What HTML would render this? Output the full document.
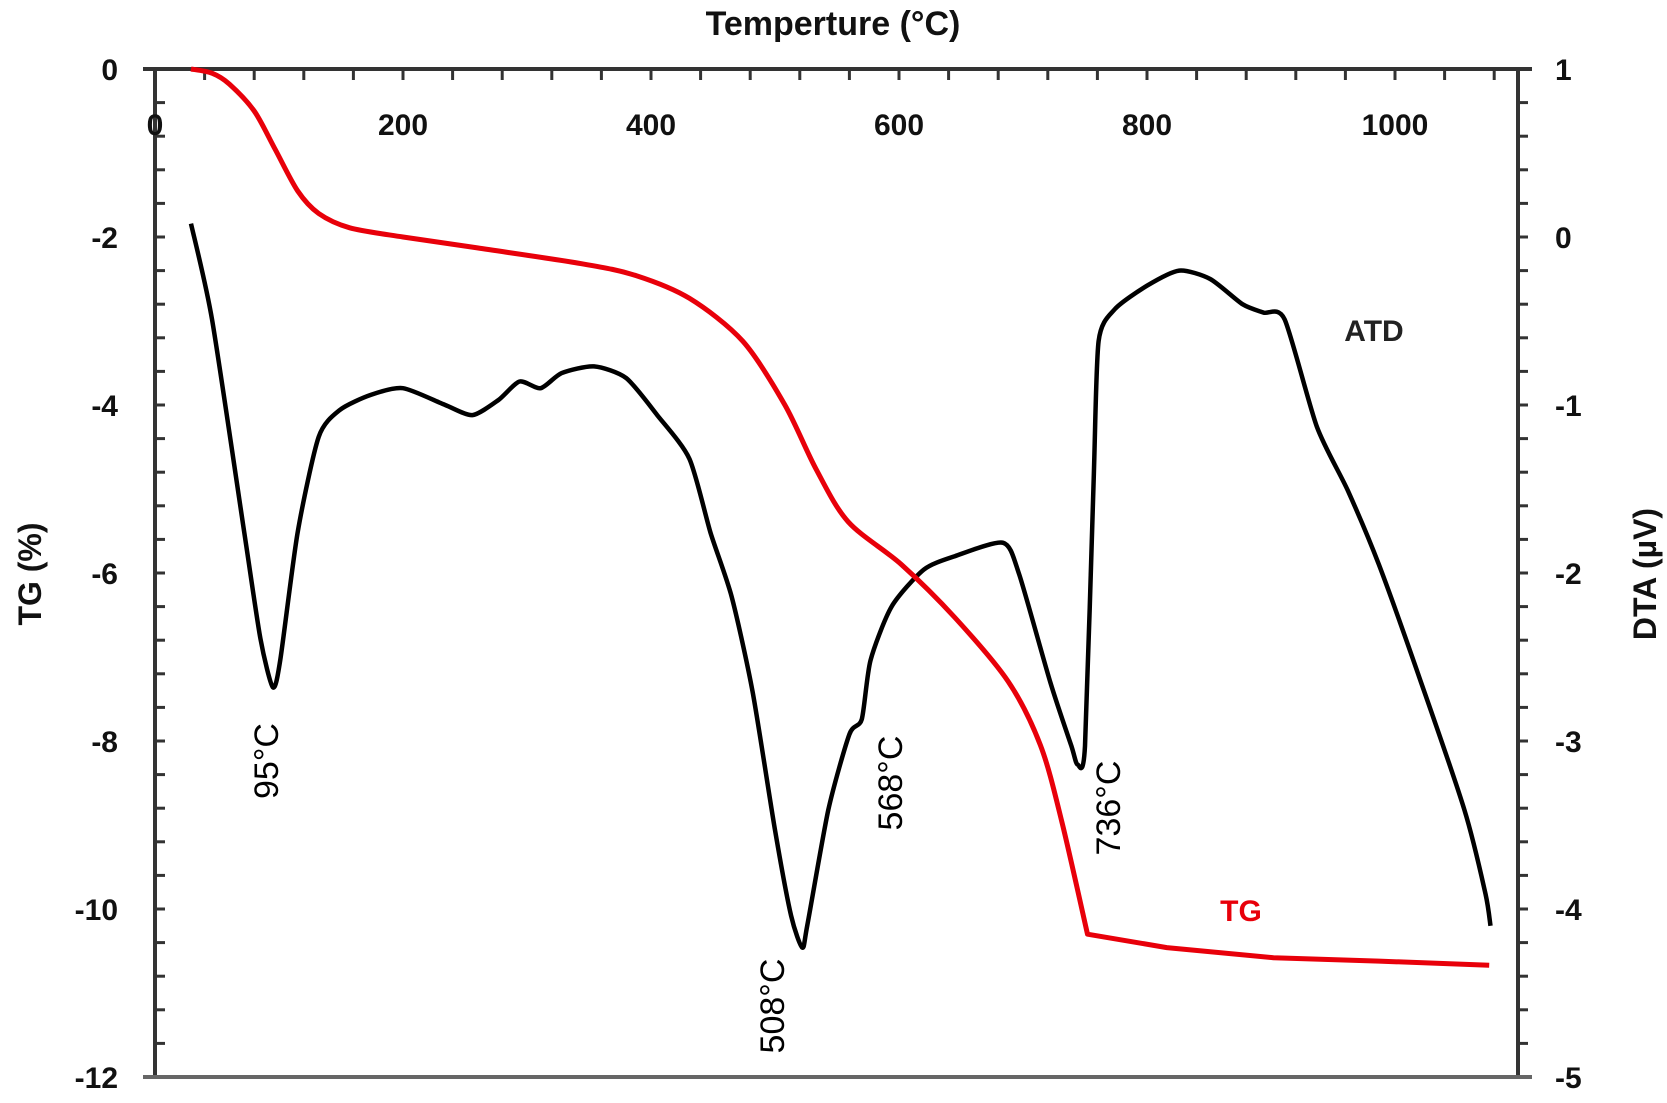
<!DOCTYPE html>
<html><head><meta charset="utf-8"><style>
body{margin:0;background:#fff}
svg{display:block}
text{font-family:"Liberation Sans",sans-serif}
</style></head><body>
<svg id="chart" width="1667" height="1103" viewBox="0 0 1667 1103">
<g id="axes"></g>
<g id="series"></g>
<g id="labels"></g>
</svg>
<script>
const xTicks=[0,200,400,600,800,1000];
const tgTicks=[0,-2,-4,-6,-8,-10,-12];
const dtaTicks=[1,0,-1,-2,-3,-4,-5];
const tgT=[29,46,60,80,97,115,132,157,200,260,345,388,431,474,508,533,559,602,645,688,714,731,752,816,902,987,1076];
const tgV=[0,-0.05,-0.18,-0.5,-0.96,-1.45,-1.72,-1.89,-2.0,-2.13,-2.32,-2.46,-2.73,-3.24,-4.0,-4.76,-5.39,-5.9,-6.53,-7.29,-8.05,-8.94,-10.3,-10.46,-10.58,-10.62,-10.67];
const tgKnee=752;
const dtaT=[29,46,72,85,95,101,115,132,149,174,200,234,256,277,294,311,328,354,380,405,431,448,465,482,500,513,522,526,543,560,570,577,594,620,645,684,697,722,739,744,750,757,761,774,800,826,851,877,894,911,937,962,987,1021,1056,1073,1077];
const dtaV=[0.08,-0.49,-1.76,-2.39,-2.68,-2.52,-1.76,-1.19,-1.03,-0.94,-0.9,-1.0,-1.06,-0.97,-0.86,-0.9,-0.81,-0.77,-0.84,-1.06,-1.32,-1.76,-2.14,-2.71,-3.53,-4.04,-4.23,-4.1,-3.41,-2.96,-2.87,-2.52,-2.2,-1.98,-1.9,-1.82,-2.01,-2.65,-3.03,-3.14,-3.03,-1.44,-0.62,-0.43,-0.29,-0.2,-0.25,-0.4,-0.45,-0.49,-1.13,-1.51,-1.95,-2.65,-3.41,-3.91,-4.1];
const peakLabels=["95°C","508°C","568°C","736°C"];

const NS="http://www.w3.org/2000/svg";
const L=155,R=1518,T=69,B=1077;
const xs=t=>L+t*1.24;
const yTG=v=>T+(-v)*(B-T)/12;
const yDTA=v=>T+(1-v)*(B-T)/6;
function mk(p,tag,at,txt){const e=document.createElementNS(NS,tag);for(const k in at)e.setAttribute(k,at[k]);if(txt!=null)e.textContent=txt;p.appendChild(e);return e;}
function smooth(P,k){let d='M'+P[0][0].toFixed(1)+','+P[0][1].toFixed(1);
for(let i=0;i<P.length-1;i++){const p0=P[Math.max(0,i-1)],p1=P[i],p2=P[i+1],p3=P[Math.min(P.length-1,i+2)];
const c1=[p1[0]+(p2[0]-p0[0])*k,p1[1]+(p2[1]-p0[1])*k],c2=[p2[0]-(p3[0]-p1[0])*k,p2[1]-(p3[1]-p1[1])*k];
d+='C'+c1.map(v=>v.toFixed(1)).join(',')+' '+c2.map(v=>v.toFixed(1)).join(',')+' '+p2[0].toFixed(1)+','+p2[1].toFixed(1);}
return d;}
const ax=document.getElementById('axes'),se=document.getElementById('series'),lb=document.getElementById('labels');
let e;
e=mk(ax,'line',{x1:143,y1:T,x2:1532,y2:T,stroke:'#333','stroke-width':4});

e=mk(ax,'line',{x1:L,y1:T,x2:L,y2:B,stroke:'#333','stroke-width':4});

e=mk(ax,'line',{x1:R,y1:T,x2:R,y2:B,stroke:'#333','stroke-width':4});

e=mk(ax,'line',{x1:143,y1:B,x2:1532,y2:B,stroke:'#666','stroke-width':4});

for(let t=40;t<1100;t+=40){e=mk(ax,'line',{x1:xs(t),y1:T,x2:xs(t),y2:T+11,stroke:'#333','stroke-width':3});
}
for(let v=0;v>=-12;v-=0.4){const y=yTG(v);
e=mk(ax,'line',{x1:L,y1:y,x2:L+10,y2:y,stroke:'#333','stroke-width':3});

e=mk(ax,'line',{x1:R,y1:y,x2:R+10,y2:y,stroke:'#333','stroke-width':3});
}
xTicks.forEach(t=>{e=mk(ax,'text',{x:xs(t),y:135,'text-anchor':'middle','font-size':30,'font-weight':'bold',fill:'#111'},String(t));
});
tgTicks.forEach(v=>{e=mk(ax,'text',{x:118,y:yTG(v)+11,'text-anchor':'end','font-size':30,'font-weight':'bold',fill:'#111'},String(v));
});
dtaTicks.forEach(v=>{e=mk(ax,'text',{x:1555,y:yDTA(v)+11,'text-anchor':'start','font-size':30,'font-weight':'bold',fill:'#111'},String(v));
});
let P=dtaT.map((t,i)=>[xs(t),yDTA(dtaV[i])]);
e=mk(se,'path',{d:smooth(P,0.12),fill:'none',stroke:'#000','stroke-width':4.5,'stroke-linejoin':'round'});

P=tgT.map((t,i)=>[xs(t),yTG(tgV[i])]);
let ki=tgT.findIndex(t=>t>=tgKnee);if(ki<0)ki=P.length-1;
let dTG=smooth(P.slice(0,ki+1),0.15);
for(let i=ki+1;i<P.length;i++)dTG+='L'+P[i][0].toFixed(1)+','+P[i][1].toFixed(1);
e=mk(se,'path',{d:dTG,fill:'none',stroke:'#e8000a','stroke-width':5,'stroke-linejoin':'round'});

const lpos=[[266,761],[772,1006],[890,783],[1108,808]];
peakLabels.forEach((s,i)=>{const [x,y]=lpos[i];
e=mk(lb,'text',{x:x,y:y,'text-anchor':'middle','font-size':34,fill:'#000',transform:`rotate(-90 ${x} ${y}) translate(0 12)`},s);
});
e=mk(lb,'text',{x:833,y:35,'text-anchor':'middle','font-size':34,'font-weight':'bold',fill:'#111'},'Temperture (°C)');

e=mk(lb,'text',{x:30,y:574,'text-anchor':'middle','font-size':32,'font-weight':'bold',fill:'#111',transform:'rotate(-90 30 574) translate(0 11)'},'TG (%)');

e=mk(lb,'text',{x:1645,y:574,'text-anchor':'middle','font-size':32,'font-weight':'bold',fill:'#111',transform:'rotate(-90 1645 574) translate(0 11)'},'DTA (µV)');

e=mk(lb,'text',{x:1374,y:341,'text-anchor':'middle','font-size':30,'font-weight':'bold',fill:'#222'},'ATD');

e=mk(lb,'text',{x:1241,y:921,'text-anchor':'middle','font-size':30,'font-weight':'bold',fill:'#e8000a'},'TG');

</script>
</body></html>
